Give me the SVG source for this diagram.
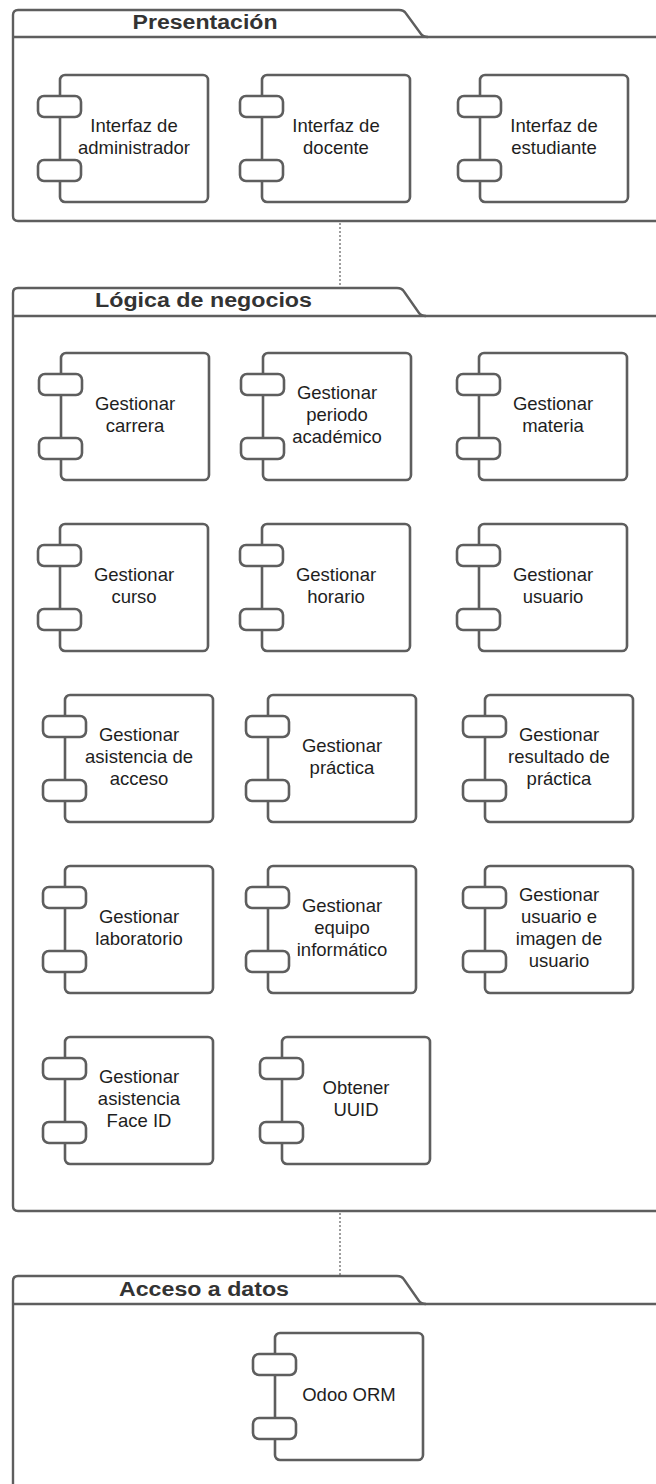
<svg xmlns="http://www.w3.org/2000/svg" width="656" height="1484" viewBox="0 0 656 1484">
  <style>
    .pkg { fill: none; stroke: #5e5e5e; stroke-width: 2.4; stroke-linejoin: round; }
    .title { font-family: "Liberation Sans", Arial, sans-serif; font-weight: bold; font-size: 20px; fill: #333333; }
    .body { fill: #ffffff; stroke: #5e5e5e; stroke-width: 2.6; }
    .port { fill: #ffffff; stroke: #5e5e5e; stroke-width: 2.6; }
    .label { font-family: "Liberation Sans", Arial, sans-serif; font-size: 18.5px; fill: #1e1e1e; text-anchor: middle; }
    .dep { stroke: #6a6a6a; stroke-width: 1.3; stroke-dasharray: 2 2; fill: none; }
  </style>
  <defs>
    <!-- UML component: body with two interface ports on the left edge -->
    <g id="comp">
      <rect class="body" x="0" y="0" width="148" height="127" rx="5"/>
      <rect class="port" x="-22" y="21" width="43" height="21" rx="6"/>
      <rect class="port" x="-22" y="85" width="43" height="21" rx="6"/>
    </g>
  </defs>

  <rect width="656" height="1484" fill="#ffffff"/>

  <!-- dependency connectors between layers -->
  <g id="connectors">
    <line class="dep" x1="340" y1="223" x2="340" y2="288"/>
    <line class="dep" x1="340" y1="1213" x2="340" y2="1276"/>
  </g>

  <!-- Package: Presentación -->
  <g id="pkg-presentacion">
    <path class="pkg" d="M 670 221 H 18 Q 13 221 13 216 V 15 Q 13 10 18 10 H 399 Q 404 10 406 13.5 L 421 34 Q 423 37 428 37 H 670"/>
    <line class="pkg" x1="13" y1="37" x2="428" y2="37"/>
    <text class="title" x="132.5" y="29" textLength="145" lengthAdjust="spacingAndGlyphs">Presentación</text>
  </g>

  <!-- Package: Lógica de negocios -->
  <g id="pkg-logica">
    <path class="pkg" d="M 670 1211 H 18 Q 13 1211 13 1206 V 293 Q 13 288 18 288 H 397 Q 402 288 404 291.5 L 419 313 Q 421 316 426 316 H 670"/>
    <line class="pkg" x1="13" y1="316" x2="426" y2="316"/>
    <text class="title" x="95" y="307" textLength="217" lengthAdjust="spacingAndGlyphs">Lógica de negocios</text>
  </g>

  <!-- Package: Acceso a datos -->
  <g id="pkg-acceso">
    <path class="pkg" d="M 13 1495 V 1281 Q 13 1276 18 1276 H 397 Q 402 1276 404 1279.5 L 419 1301 Q 421 1304 426 1304 H 670"/>
    <line class="pkg" x1="13" y1="1304" x2="426" y2="1304"/>
    <text class="title" x="119" y="1296" textLength="170" lengthAdjust="spacingAndGlyphs">Acceso a datos</text>
  </g>

  <!-- Presentation components -->
  <g id="interfaz-administrador" transform="translate(60,75)">
    <use href="#comp"/>
    <text class="label" x="74"><tspan x="74" y="56.75">Interfaz de</tspan><tspan x="74" y="78.75">administrador</tspan></text>
  </g>
  <g id="interfaz-docente" transform="translate(262,75)">
    <use href="#comp"/>
    <text class="label" x="74"><tspan x="74" y="56.75">Interfaz de</tspan><tspan x="74" y="78.75">docente</tspan></text>
  </g>
  <g id="interfaz-estudiante" transform="translate(480,75)">
    <use href="#comp"/>
    <text class="label" x="74"><tspan x="74" y="56.75">Interfaz de</tspan><tspan x="74" y="78.75">estudiante</tspan></text>
  </g>

  <!-- Business logic components -->
  <g id="gestionar-carrera" transform="translate(61,353)">
    <use href="#comp"/>
    <text class="label" x="74"><tspan x="74" y="56.75">Gestionar</tspan><tspan x="74" y="78.75">carrera</tspan></text>
  </g>
  <g id="gestionar-periodo" transform="translate(263,353)">
    <use href="#comp"/>
    <text class="label" x="74"><tspan x="74" y="45.75">Gestionar</tspan><tspan x="74" y="67.75">periodo</tspan><tspan x="74" y="89.75">académico</tspan></text>
  </g>
  <g id="gestionar-materia" transform="translate(479,353)">
    <use href="#comp"/>
    <text class="label" x="74"><tspan x="74" y="56.75">Gestionar</tspan><tspan x="74" y="78.75">materia</tspan></text>
  </g>

  <g id="gestionar-curso" transform="translate(60,524)">
    <use href="#comp"/>
    <text class="label" x="74"><tspan x="74" y="56.75">Gestionar</tspan><tspan x="74" y="78.75">curso</tspan></text>
  </g>
  <g id="gestionar-horario" transform="translate(262,524)">
    <use href="#comp"/>
    <text class="label" x="74"><tspan x="74" y="56.75">Gestionar</tspan><tspan x="74" y="78.75">horario</tspan></text>
  </g>
  <g id="gestionar-usuario" transform="translate(479,524)">
    <use href="#comp"/>
    <text class="label" x="74"><tspan x="74" y="56.75">Gestionar</tspan><tspan x="74" y="78.75">usuario</tspan></text>
  </g>

  <g id="gestionar-asistencia-acceso" transform="translate(65,695)">
    <use href="#comp"/>
    <text class="label" x="74"><tspan x="74" y="45.75">Gestionar</tspan><tspan x="74" y="67.75">asistencia de</tspan><tspan x="74" y="89.75">acceso</tspan></text>
  </g>
  <g id="gestionar-practica" transform="translate(268,695)">
    <use href="#comp"/>
    <text class="label" x="74"><tspan x="74" y="56.75">Gestionar</tspan><tspan x="74" y="78.75">práctica</tspan></text>
  </g>
  <g id="gestionar-resultado-practica" transform="translate(485,695)">
    <use href="#comp"/>
    <text class="label" x="74"><tspan x="74" y="45.75">Gestionar</tspan><tspan x="74" y="67.75">resultado de</tspan><tspan x="74" y="89.75">práctica</tspan></text>
  </g>

  <g id="gestionar-laboratorio" transform="translate(65,866)">
    <use href="#comp"/>
    <text class="label" x="74"><tspan x="74" y="56.75">Gestionar</tspan><tspan x="74" y="78.75">laboratorio</tspan></text>
  </g>
  <g id="gestionar-equipo" transform="translate(268,866)">
    <use href="#comp"/>
    <text class="label" x="74"><tspan x="74" y="45.75">Gestionar</tspan><tspan x="74" y="67.75">equipo</tspan><tspan x="74" y="89.75">informático</tspan></text>
  </g>
  <g id="gestionar-usuario-imagen" transform="translate(485,866)">
    <use href="#comp"/>
    <text class="label" x="74"><tspan x="74" y="34.75">Gestionar</tspan><tspan x="74" y="56.75">usuario e</tspan><tspan x="74" y="78.75">imagen de</tspan><tspan x="74" y="100.75">usuario</tspan></text>
  </g>

  <g id="gestionar-asistencia-faceid" transform="translate(65,1037)">
    <use href="#comp"/>
    <text class="label" x="74"><tspan x="74" y="45.75">Gestionar</tspan><tspan x="74" y="67.75">asistencia</tspan><tspan x="74" y="89.75">Face ID</tspan></text>
  </g>
  <g id="obtener-uuid" transform="translate(282,1037)">
    <use href="#comp"/>
    <text class="label" x="74"><tspan x="74" y="56.75">Obtener</tspan><tspan x="74" y="78.75">UUID</tspan></text>
  </g>

  <!-- Data access component -->
  <g id="odoo-orm" transform="translate(275,1333)">
    <use href="#comp"/>
    <text class="label" x="74" y="67.5">Odoo ORM</text>
  </g>
</svg>
